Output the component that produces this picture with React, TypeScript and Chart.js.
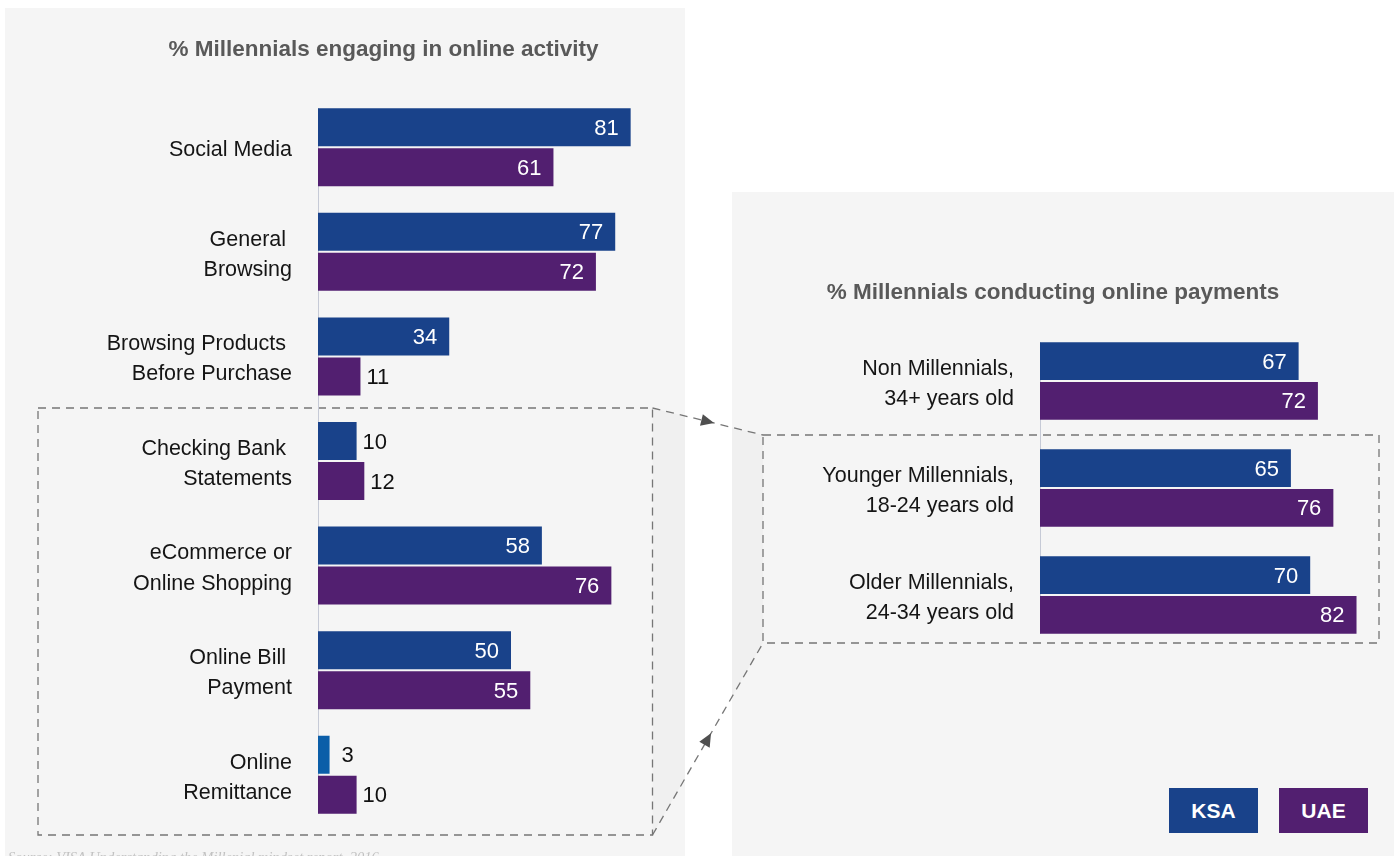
import React, { useEffect, useRef } from "react";
import { Chart, registerables } from "chart.js";

Chart.register(...registerables);

// ---------- data ----------
const activityCategories = [
  ["Social Media"],
  ["General ", "Browsing"],
  ["Browsing Products ", "Before Purchase"],
  ["Checking Bank ", "Statements"],
  ["eCommerce or", "Online Shopping"],
  ["Online Bill ", "Payment"],
  ["Online", "Remittance"],
];
const activityKSA = [81, 77, 34, 10, 58, 50, 3];
const activityUAE = [61, 72, 11, 12, 76, 55, 10];

const paymentCategories = [
  ["Non Millennials,", "34+ years old"],
  ["Younger Millennials,", "18-24 years old"],
  ["Older Millennials,", "24-34 years old"],
];
const paymentKSA = [67, 65, 70];
const paymentUAE = [72, 76, 82];

const seriesNames = ["KSA", "UAE"];
const leftTitle = "% Millennials engaging in online activity";
const rightTitle = "% Millennials conducting online payments";
const sourceText = "Source: VISA Understanding the Millenial mindset report, 2016";

// ---------- styles ----------
const KSA_COLOR = "#19428a";
const KSA_ALT_COLOR = "#0b5ea8";
const UAE_COLOR = "#521f70";
const activityKSAColors = [KSA_COLOR, KSA_COLOR, KSA_COLOR, KSA_COLOR, KSA_COLOR, KSA_COLOR, KSA_ALT_COLOR];
const FONT = "'Liberation Sans', Arial, Helvetica, sans-serif";

const valueLabels = {
  id: "valueLabels",
  afterDatasetsDraw(chart: any) {
    const ctx = chart.ctx;
    chart.data.datasets.forEach((ds: any, di: number) => {
      const meta = chart.getDatasetMeta(di);
      meta.data.forEach((bar: any, i: number) => {
        const v = ds.data[i];
        const { x, y } = bar.getProps(["x", "y"], true);
        ctx.save();
        ctx.font = `22px ${FONT}`;
        ctx.textBaseline = "middle";
        if (v >= 20) {
          ctx.fillStyle = "#ffffff";
          ctx.textAlign = "right";
          ctx.fillText(String(v), x - 12, y + 1.5);
        } else {
          ctx.fillStyle = "#111111";
          ctx.textAlign = "left";
          ctx.fillText(String(v), x + (v < 5 ? 12 : 6), y + 1.5);
        }
        ctx.restore();
      });
    });
  },
};

const axisLine = {
  id: "axisLine",
  beforeDatasetsDraw(chart: any) {
    const ctx = chart.ctx;
    const first = chart.getDatasetMeta(0).data[0];
    const lastMeta = chart.getDatasetMeta(chart.data.datasets.length - 1);
    const last = lastMeta.data[lastMeta.data.length - 1];
    if (!first || !last) return;
    const top = first.y - first.height / 2;
    const bottom = last.y + last.height / 2;
    ctx.save();
    ctx.strokeStyle = "#c6cad6";
    ctx.lineWidth = 1;
    ctx.beginPath();
    ctx.moveTo(chart.chartArea.left + 0.5, top);
    ctx.lineTo(chart.chartArea.left + 0.5, bottom);
    ctx.stroke();
    ctx.restore();
  },
};

function makeConfig(
  labels: string[][],
  ksa: number[],
  uae: number[],
  ksaColors: string[] | string,
  axisWidth: number,
  padding: { top: number; bottom: number; right: number; left: number },
  catPct: number
): any {
  return {
    type: "bar",
    data: {
      labels,
      datasets: [
        { label: seriesNames[0], data: ksa, backgroundColor: ksaColors, borderWidth: 0 },
        { label: seriesNames[1], data: uae, backgroundColor: UAE_COLOR, borderWidth: 0 },
      ],
    },
    options: {
      indexAxis: "y",
      responsive: false,
      maintainAspectRatio: false,
      animation: false,
      layout: { padding },
      datasets: { bar: { barPercentage: 0.95, categoryPercentage: catPct } },
      plugins: { legend: { display: false }, tooltip: { enabled: false }, title: { display: false } },
      scales: {
        x: { display: false, min: 0, max: 90 },
        y: {
          grid: { display: false, drawTicks: false },
          border: { display: false },
          ticks: {
            color: "#151515",
            font: { size: 21.5, family: FONT, lineHeight: 1.4 },
            padding: 26,
            labelOffset: 3,
            autoSkip: false,
          },
          afterFit(axis: any) {
            axis.width = axisWidth;
          },
        },
      },
    },
    plugins: [axisLine, valueLabels],
  };
}

function BarCanvas(props: { config: any; width: number; height: number; style: React.CSSProperties }) {
  const ref = useRef<HTMLCanvasElement | null>(null);
  useEffect(() => {
    if (!ref.current) return;
    const chart = new Chart(ref.current, props.config);
    return () => chart.destroy();
  }, []);
  return <canvas ref={ref} width={props.width} height={props.height} style={{ position: "absolute", width: props.width, height: props.height, ...props.style }} />;
}

function Arrow(props: { x1: number; y1: number; x2: number; y2: number; t: number }) {
  const { x1, y1, x2, y2, t } = props;
  const cx = x1 + (x2 - x1) * t;
  const cy = y1 + (y2 - y1) * t;
  const ang = Math.atan2(y2 - y1, x2 - x1);
  const L = 13;
  const W = 6;
  const ux = Math.cos(ang), uy = Math.sin(ang);
  const px = -uy, py = ux;
  const tipX = cx + ux * L / 2, tipY = cy + uy * L / 2;
  const bx = cx - ux * L / 2, by = cy - uy * L / 2;
  const pts = `${tipX},${tipY} ${bx + px * W},${by + py * W} ${bx - px * W},${by - py * W}`;
  return <polygon points={pts} fill="#4f4f4f" />;
}

export default function App() {
  useEffect(() => {
    document.body.style.margin = "0";
  }, []);

  const leftConfig = makeConfig(
    activityCategories,
    activityKSA,
    activityUAE,
    activityKSAColors,
    318,
    { top: 95, bottom: 73, right: 34.6, left: 0 },
    0.765
  );
  const rightConfig = makeConfig(
    paymentCategories,
    paymentKSA,
    paymentUAE,
    KSA_COLOR,
    340,
    { top: 135.5, bottom: 207.5, right: 6.6, left: 0 },
    0.745
  );

  const dash = { stroke: "#767676", strokeWidth: 1.3, strokeDasharray: "8 6", fill: "none" } as any;

  return (
    <div style={{ position: "relative", width: 1394, height: 856, overflow: "hidden", background: "#ffffff", fontFamily: FONT }}>
      <div style={{ position: "absolute", left: 5, top: 8, width: 680, height: 848, background: "#f5f5f5" }} />
      <div style={{ position: "absolute", left: 732, top: 192, width: 662, height: 664, background: "#f5f5f5" }} />

      <svg width={1394} height={856} style={{ position: "absolute", left: 0, top: 0 }}>
        <defs>
          <clipPath id="panelsClip">
            <rect x={5} y={8} width={680} height={848} />
            <rect x={732} y={192} width={662} height={664} />
          </clipPath>
        </defs>
        <polygon points="652.5,408 763,435 763,643 652.5,835" fill="#000" fillOpacity={0.02} clipPath="url(#panelsClip)" />
        <rect x={38} y={408} width={614.5} height={427} {...dash} />
        <rect x={763} y={435} width={616} height={208} {...dash} />
        <line x1={652.5} y1={408} x2={763} y2={435} {...dash} />
        <line x1={652.5} y1={835} x2={763} y2={643} {...dash} />
        <Arrow x1={652.5} y1={408} x2={763} y2={435} t={0.5} />
        <Arrow x1={652.5} y1={835} x2={763} y2={643} t={0.5} />
      </svg>

      <BarCanvas config={leftConfig} width={700} height={900} style={{ left: 0, top: 0 }} />
      <BarCanvas config={rightConfig} width={694} height={664} style={{ left: 700, top: 192 }} />

      <div style={{ position: "absolute", left: 383.5, top: 36, transform: "translateX(-50%)", whiteSpace: "nowrap", fontSize: 22.5, lineHeight: "26px", fontWeight: "bold", color: "#595959" }}>
        {leftTitle}
      </div>
      <div style={{ position: "absolute", left: 1053, top: 279, transform: "translateX(-50%)", whiteSpace: "nowrap", fontSize: 22.5, lineHeight: "26px", fontWeight: "bold", color: "#595959" }}>
        {rightTitle}
      </div>

      <div style={{ position: "absolute", left: 1169, top: 788, width: 89, height: 45, background: KSA_COLOR, color: "#fff", fontWeight: "bold", fontSize: 21, lineHeight: "45px", textAlign: "center" }}>
        {seriesNames[0]}
      </div>
      <div style={{ position: "absolute", left: 1279, top: 788, width: 89, height: 45, background: UAE_COLOR, color: "#fff", fontWeight: "bold", fontSize: 21, lineHeight: "45px", textAlign: "center" }}>
        {seriesNames[1]}
      </div>

      <div style={{ position: "absolute", left: 8, top: 848, whiteSpace: "nowrap", fontFamily: "'Liberation Serif', 'DejaVu Serif', serif", fontStyle: "italic", fontSize: 14.5, lineHeight: "18px", color: "#c2c2c2" }}>
        {sourceText}
      </div>
    </div>
  );
}
